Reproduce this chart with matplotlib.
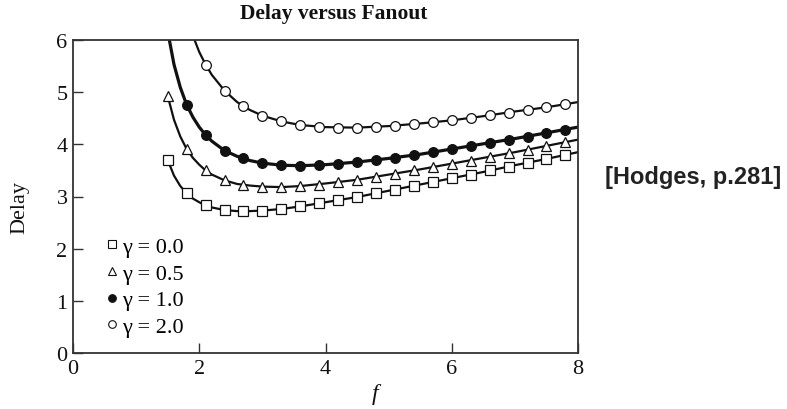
import matplotlib

matplotlib.use('Agg')
import matplotlib.pyplot as plt
from matplotlib.lines import Line2D

# values
f_line = [1.5, 1.6, 1.7, 1.8, 1.9, 2.0, 2.1, 2.2, 2.4, 2.6, 2.8, 3.0,
          3.3, 3.6, 4.0, 4.5, 5.0, 5.5, 6.0, 6.5, 7.0, 7.5, 8.0]
delay0_line = [3.70, 3.40, 3.20, 3.06, 2.96, 2.89, 2.83, 2.79, 2.74, 2.72, 2.72, 2.73,
               2.76, 2.81, 2.89, 2.99, 3.11, 3.23, 3.35, 3.47, 3.60, 3.72, 3.85]
delay05_line = [4.93, 4.47, 4.15, 3.91, 3.74, 3.61, 3.50, 3.42, 3.31, 3.24, 3.21, 3.19,
                3.18, 3.20, 3.25, 3.32, 3.42, 3.52, 3.63, 3.74, 3.85, 3.97, 4.09]
delay1_line = [6.17, 5.53, 5.09, 4.76, 4.52, 4.33, 4.18, 4.06, 3.88, 3.77, 3.69, 3.64,
               3.60, 3.59, 3.61, 3.66, 3.73, 3.81, 3.91, 4.01, 4.11, 4.22, 4.33]
delay2_line = [8.63, 7.66, 6.97, 6.46, 6.08, 5.77, 5.53, 5.33, 5.03, 4.81, 4.66, 4.55,
               4.44, 4.37, 4.33, 4.32, 4.35, 4.40, 4.46, 4.54, 4.63, 4.71, 4.81]

f_marks = [1.5, 1.8, 2.1, 2.4, 2.7, 3.0, 3.3, 3.6, 3.9, 4.2, 4.5,
           4.8, 5.1, 5.4, 5.7, 6.0, 6.3, 6.6, 6.9, 7.2, 7.5, 7.8]
delay0_marks = [3.70, 3.06, 2.83, 2.74, 2.72, 2.73, 2.76, 2.81, 2.87, 2.93, 2.99,
                3.06, 3.13, 3.20, 3.27, 3.35, 3.42, 3.50, 3.57, 3.65, 3.72, 3.80]
delay05_marks = [4.93, 3.91, 3.50, 3.31, 3.22, 3.19, 3.18, 3.20, 3.23, 3.28, 3.32,
                 3.38, 3.44, 3.50, 3.56, 3.63, 3.69, 3.76, 3.83, 3.90, 3.97, 4.04]
delay1_marks = [4.76, 4.18, 3.88, 3.73, 3.64, 3.60, 3.59, 3.60, 3.62, 3.66,
                3.70, 3.74, 3.80, 3.85, 3.91, 3.97, 4.03, 4.09, 4.15, 4.22, 4.28]
delay2_marks = [5.53, 5.03, 4.73, 4.55, 4.44, 4.37, 4.34, 4.32, 4.32, 4.34,
                4.36, 4.39, 4.42, 4.46, 4.51, 4.56, 4.61, 4.66, 4.71, 4.77]

labels = ['γ = 0.0', 'γ = 0.5', 'γ = 1.0', 'γ = 2.0']
x_ticks = [0, 2, 4, 6, 8]
y_ticks = [0, 1, 2, 3, 4, 5, 6]

plt.rcParams['font.family'] = ['Liberation Serif', 'DejaVu Serif']
ink = '#111111'

fig = plt.figure(figsize=(7.87, 4.10), dpi=100)
ax = fig.add_axes([73 / 787, 1 - 354 / 410, 505 / 787, 313 / 410])

series = [
    (delay0_line, f_marks, delay0_marks, 's', 'white', 1.6, 7.0),
    (delay05_line, f_marks, delay05_marks, '^', 'white', 1.6, 7.5),
    (delay1_line, f_marks[1:], delay1_marks, 'o', ink, 2.3, 7.0),
    (delay2_line, f_marks[2:], delay2_marks, 'o', 'white', 1.6, 7.0),
]
for line_y, mx, my, m, face, lw, ms in series:
    ax.plot(f_line, line_y, color=ink, lw=lw, zorder=2)
    ax.plot(mx, my, ls='none', marker=m, ms=ms, mfc=face, mec=ink, mew=0.9, zorder=3)

ax.set_xlim(0, 8)
ax.set_ylim(0, 6)
ax.set_xticks(x_ticks)
ax.set_yticks(y_ticks)
ax.tick_params(direction='in', length=7, width=1.0, labelsize=16, colors='#333333',
               labelcolor=ink, pad=4)
for s in ax.spines.values():
    s.set_linewidth(1.3)
    s.set_color('#333333')

handles = [Line2D([], [], ls='none', marker=m, ms=5.5, mfc=face, mec=ink, mew=0.8)
           for _, _, _, m, face, _, _ in series]
ax.legend(handles, labels, loc='upper left', bbox_to_anchor=(0.065, 0.373), frameon=False,
          fontsize=16, handlelength=0.6, handletextpad=0.15, labelspacing=0.28,
          borderpad=0, borderaxespad=0)

fig.text(334 / 787, 1 - 14 / 410, 'Delay versus Fanout', ha='center', va='center',
         fontsize=15.5, fontweight='bold', color=ink)
fig.text(20 / 787, 1 - 208 / 410, 'Delay', rotation=90, ha='center', va='center',
         fontsize=16, color=ink)
fig.text(375 / 787, 1 - 395 / 410, 'f', style='italic', ha='center', va='center',
         fontsize=17, color=ink)
fig.text(693 / 787, 1 - 178 / 410, '[Hodges, p.281]', ha='center', va='center',
         fontsize=17, fontweight='bold', color='#222222', family='Liberation Sans')

plt.savefig('out.png')
